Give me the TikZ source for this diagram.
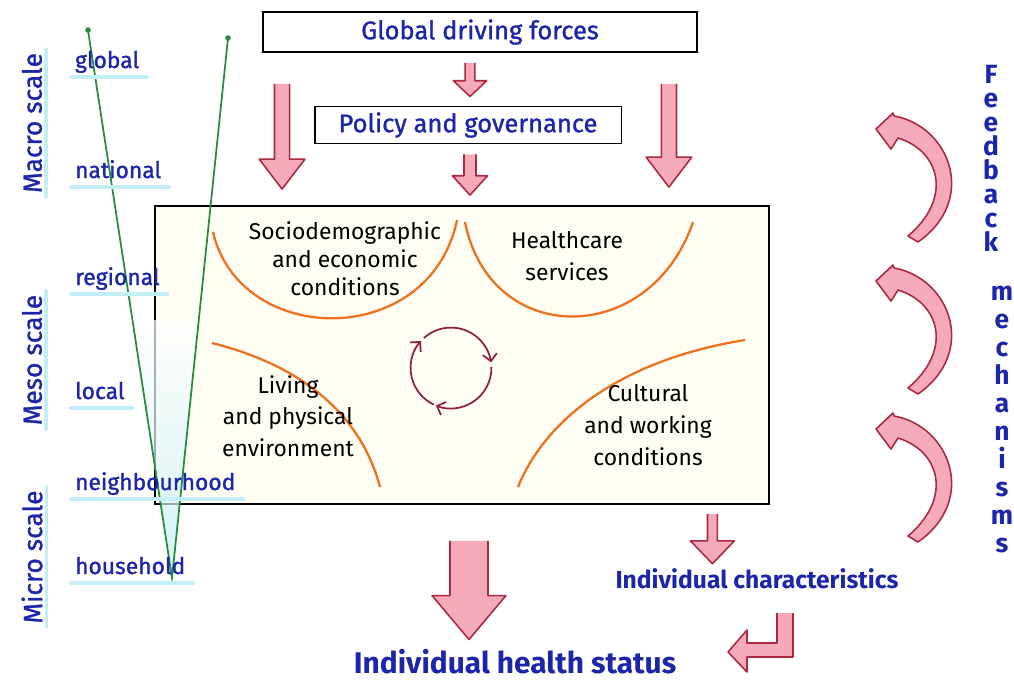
\documentclass[tikz,border=0pt]{standalone}
\usepackage{fontspec}
\setmainfont{Fira Sans}
\newfontfamily\inkfont{Fira Sans}[FakeBold=1.2]
\usepackage{tikz}
\usetikzlibrary{positioning,calc,arrows.meta}

\definecolor{inkblue}{RGB}{28,38,168}
\definecolor{hilite}{RGB}{196,238,247}
\definecolor{arrowpink}{RGB}{245,170,186}
\definecolor{arrowred}{RGB}{170,42,64}
\definecolor{arcorange}{RGB}{240,112,34}
\definecolor{cyclered}{RGB}{150,30,64}
\definecolor{scalegreen}{RGB}{40,140,62}
\definecolor{boxcream}{RGB}{255,254,242}

\tikzset{
    scalelabel/.style={text=inkblue, rotate=90, inner sep=2pt, font=\inkfont\fontsize{15}{17}\selectfont},
    levellabel/.style={text=inkblue, anchor=base west, inner sep=1pt, font=\inkfont\fontsize{13}{15}\selectfont},
    strip/.style={hilite, line width=2pt, line cap=round},
    forcebox/.style={draw=black, line width=1.1pt, text=inkblue, font=\inkfont\fontsize{14.5}{16}\selectfont},
    factor/.style={align=center, font=\fontsize{13}{16}\selectfont},
    factorarc/.style={arcorange, line width=1.3pt},
    arrowedge/.style={arrowred, line width=0.9pt, line join=round},
    outcome/.style={text=inkblue, inner sep=1pt, font=\bfseries\fontsize{17}{19}\selectfont},
    fbletter/.style={text=inkblue, anchor=base, inner sep=0pt, font=\bfseries\fontsize{15}{15}\selectfont},
    cyclearrow/.style={cyclered, line width=1pt, -{Straight Barb[length=4pt,width=8pt]}},
}

% fat downward arrow: top, tip, shaft half width, head half width, head length
\newcommand{\fatdown}[5]{%
    \filldraw[arrowedge, fill=arrowpink] let \p1=#1, \p2=#2 in
        (\x1-#3,\y1) -- (\x1-#3,\y2+#5) -- (\x1-#4,\y2+#5) -- (\x1,\y2)
        -- (\x1+#4,\y2+#5) -- (\x1+#3,\y2+#5) -- (\x1+#3,\y1);
}

% curved feedback arrow, shifted down by #1
\newcommand{\feedback}[1]{%
    \begin{scope}[shift={(0,#1)}]
        \filldraw[arrowedge, fill=arrowpink] (894,116) .. controls (950,126) and (978,200) .. (918,242)
            -- (908,236) .. controls (953,198) and (940,151) .. (898,138)
            -- (891,149) -- (876,129) -- (893,113) -- cycle;
    \end{scope}}

\begin{document}
\begin{tikzpicture}[x=0.02cm, y=-0.02cm]
    \fill[white] (0,0) rectangle (1014,680);
    \useasboundingbox (0,0) rectangle (1014,680);

    % boxes
    \node[forcebox, minimum width=8.68cm, minimum height=0.8cm] (gdf) at (480,32) {Global driving forces};
    \node[forcebox, minimum width=6.14cm, minimum height=0.72cm] (pol) at (468,125) {Policy and governance};
    \node[draw=black, line width=1.1pt, fill=boxcream, minimum width=12.3cm, minimum height=5.96cm] (main) at (462,355) {};

    \node[outcome] (health) at (515,662) {Individual health status};
    \node[outcome, font=\bfseries\fontsize{14}{16}\selectfont] (ichar) at (757,579) {Individual characteristics};

    % scale cone
    \coordinate (conel) at (88,30);
    \coordinate (coner) at (228,38);
    \coordinate (apex) at (172,578);
    \shade[top color=white, bottom color=hilite, opacity=0.7] (130.8,320) -- (199.8,320) -- (apex) -- cycle;
    \draw[scalegreen, line width=1pt] (conel) -- (apex) -- (coner);
    \fill[scalegreen] (conel) circle [radius=1.6pt];
    \fill[scalegreen] (coner) circle [radius=1.6pt];

    % scales
    \node[scalelabel] (macro) at (32,123) {Macro scale};
    \node[scalelabel] (meso) at (32,360) {Meso scale};
    \node[scalelabel] (micro) at (32,557) {Micro scale};
    \foreach \n in {macro,meso,micro}
        \draw[strip] (\n.south west) -- (\n.south east);

    \foreach \n/\txt/\y in {lvglob/global/68, lvnat/national/178, lvreg/regional/285,
                            lvloc/local/399, lvnbh/neighbourhood/490, lvhh/household/574}
    {
        \node[levellabel] (\n) at (73,\y) {\txt};
        \draw[strip] ($(\n.base west)+(-2,9)$) -- ($(\n.base east)+(6,9)$);
    }

    % determinants
    \draw[factorarc] (213,232) .. controls (240,348) and (430,350) .. (457,220);
    \draw[factorarc] (465,222) .. controls (490,348) and (650,348) .. (693,222);
    \draw[factorarc] (212,343) .. controls (320,370) and (365,430) .. (380,487);
    \draw[factorarc] (745,340) .. controls (620,360) and (545,420) .. (518,487);

    \node[factor] (socio) at (345,259) {Sociodemographic\\and economic\\conditions};
    \node[factor, font=\fontsize{13}{18}\selectfont] (care) at (567,256) {Healthcare\\services};
    \node[factor, font=\fontsize{13}{18}\selectfont] (living) at (288,416) {Living\\and physical\\environment};
    \node[factor, font=\fontsize{13}{18}\selectfont] (cult) at (648,425) {Cultural\\and working\\conditions};

    \coordinate (cyc) at (451,368);
    \draw[cyclearrow] ([shift={(245:23pt)}]cyc) arc[start angle=245, end angle=138, radius=23pt];
    \draw[cyclearrow] ([shift={(132:23pt)}]cyc) arc[start angle=132, end angle=8, radius=23pt];
    \draw[cyclearrow] ([shift={(2:23pt)}]cyc) arc[start angle=2, end angle=-112, radius=23pt];

    % arrows down the levels
    \fatdown{($(gdf.south)+(-10,10)$)}{($(pol.north)+(0,-9)$)}{2.8pt}{9.5pt}{9pt}
    \fatdown{($(gdf.south west)+(20,31)$)}{($(main.north)+(0,-16)$)}{4.3pt}{13pt}{17pt}
    \fatdown{($(gdf.south east)+(-29,31)$)}{($(main.north)+(0,-18)$)}{4.3pt}{13pt}{17pt}
    \fatdown{($(pol.south)+(2,10)$)}{($(main.north)+(0,-10)$)}{3.4pt}{10pt}{11pt}
    \fatdown{($(main.south)+(7,36)$)}{($(health.north)+(0,-8)$)}{10.8pt}{21pt}{25pt}
    \fatdown{($(main.south east)+(-58,9)$)}{($(ichar.north)+(0,-3)$)}{2.8pt}{12.5pt}{13pt}

    % characteristics to health status
    \filldraw[arrowedge, fill=arrowpink] (777,613) -- (777,643) -- (747,643) -- (747,630) -- (728,652)
        -- (747,672) -- (747,657) -- (793,657) -- (793,613);

    % feedback
    \feedback{0}
    \feedback{152}
    \feedback{300}
    \foreach \c [count=\i] in {F,e,e,d,b,a,c,k}
        \node[fbletter] (fb\i) at (991,{83+24*(\i-1)}) {\c};
    \foreach \c [count=\i] in {m,e,c,h,a,n,i,s,m,s}
        \node[fbletter] (mech\i) at (1002,{300+28*(\i-1)}) {\c};
\end{tikzpicture}
\end{document}
